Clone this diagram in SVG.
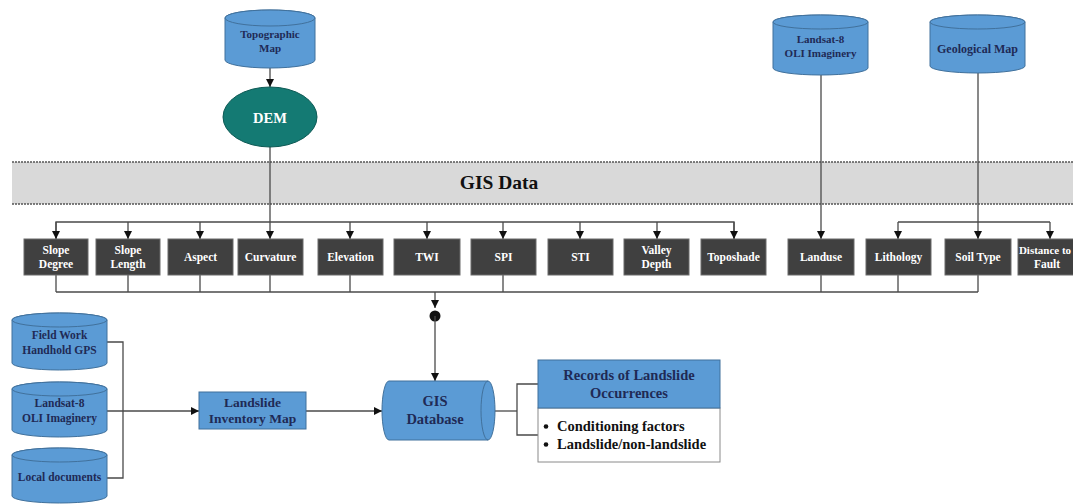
<svg xmlns="http://www.w3.org/2000/svg" width="1073" height="504" viewBox="0 0 1073 504">
<defs>
<style>
text{font-family:"Liberation Serif","Times New Roman",serif;font-weight:bold;text-anchor:middle}
.cyl{fill:#5b9bd5;stroke:#41719c;stroke-width:1}
.ct{fill:#1f2a55;font-size:11px}
.bt{fill:#1f2a55;font-size:11.5px}
.fac rect{fill:#404040;stroke:#6b6b6b;stroke-width:1}
.fac text{fill:#ffffff;font-size:11.5px}
.ln{fill:none;stroke:#4a4a4a;stroke-width:1.3}
.ar{marker-end:url(#ah)}
</style>
<marker id="ah" markerUnits="userSpaceOnUse" markerWidth="8" markerHeight="8" refX="8" refY="4" orient="auto">
<path d="M0,0 L8,4 L0,8 z" fill="#111"/>
</marker>
</defs>
<rect width="1073" height="504" fill="#ffffff"/>

<g id="gis-data-band">
<rect x="12" y="162" width="1061" height="42" fill="#d9d9d9"/>
<line x1="12" y1="162" x2="1073" y2="162" stroke="#555" stroke-width="1.3" stroke-dasharray="2,1"/>
<line x1="12" y1="204" x2="1073" y2="204" stroke="#555" stroke-width="1.3" stroke-dasharray="2,1"/>
<text x="499" y="189" font-size="19.5" fill="#111">GIS Data</text>
</g>

<g id="connectors">
<line class="ln ar" x1="270" y1="68" x2="270" y2="87"/>
<line class="ln ar" x1="270" y1="147" x2="270" y2="239"/>
<line class="ln ar" x1="821" y1="75" x2="821" y2="239"/>
<line class="ln ar" x1="978" y1="73" x2="978" y2="239"/>
<polyline class="ln" points="734,239 734,222 56,222 56,239"/>
<line class="ln ar" x1="56" y1="222" x2="56" y2="239"/>
<line class="ln ar" x1="128" y1="222" x2="128" y2="239"/>
<line class="ln ar" x1="200" y1="222" x2="200" y2="239"/>
<line class="ln ar" x1="350" y1="222" x2="350" y2="239"/>
<line class="ln ar" x1="427" y1="222" x2="427" y2="239"/>
<line class="ln ar" x1="503" y1="222" x2="503" y2="239"/>
<line class="ln ar" x1="580" y1="222" x2="580" y2="239"/>
<line class="ln ar" x1="657" y1="222" x2="657" y2="239"/>
<line class="ln ar" x1="734" y1="222" x2="734" y2="239"/>
<line class="ln" x1="898" y1="222" x2="1050" y2="222"/>
<line class="ln ar" x1="898" y1="222" x2="898" y2="239"/>
<line class="ln ar" x1="1050" y1="222" x2="1050" y2="239"/>
<line class="ln" x1="56" y1="292" x2="978" y2="292"/>
<line class="ln" x1="56" y1="275" x2="56" y2="292"/>
<line class="ln" x1="128" y1="275" x2="128" y2="292"/>
<line class="ln" x1="200" y1="275" x2="200" y2="292"/>
<line class="ln" x1="270" y1="275" x2="270" y2="292"/>
<line class="ln" x1="350" y1="275" x2="350" y2="292"/>
<line class="ln" x1="503" y1="275" x2="503" y2="292"/>
<line class="ln" x1="821" y1="275" x2="821" y2="292"/>
<line class="ln" x1="898" y1="275" x2="898" y2="292"/>
<line class="ln" x1="978" y1="275" x2="978" y2="292"/>
<line class="ln ar" x1="435" y1="292" x2="435" y2="308"/>
<circle cx="435" cy="316" r="5.5" fill="#111"/>
<line class="ln ar" x1="435" y1="316" x2="435" y2="381"/>
<polyline class="ln" points="107,342 123,342 123,478 107,478"/>
<line class="ln ar" x1="107" y1="411" x2="199" y2="411"/>
<line class="ln ar" x1="306" y1="411" x2="382" y2="411"/>
<polyline class="ln" points="495,411 517,411"/>
<polyline class="ln" points="538,384 517,384 517,435 538,435"/>
</g>

<g id="topographic-map">
<path class="cyl" d="M225,18 A45,8 0 0 1 315,18 L315,60 A45,8 0 0 1 225,60 Z"/>
<ellipse class="cyl" cx="270" cy="18" rx="45" ry="8"/>
<text class="ct" x="270" y="38">Topographic</text>
<text class="ct" x="270" y="52">Map</text>
</g>

<g id="dem">
<ellipse cx="270" cy="117" rx="47" ry="30" fill="#147a73" stroke="#0e5a55" stroke-width="1"/>
<text x="270" y="122.5" font-size="14.5" fill="#ffffff">DEM</text>
</g>

<g id="landsat-top">
<path class="cyl" d="M773,22 A47.5,7 0 0 1 868,22 L868,68 A47.5,7 0 0 1 773,68 Z"/>
<ellipse class="cyl" cx="820.5" cy="22" rx="47.5" ry="7"/>
<text class="ct" x="820.5" y="43">Landsat-8</text>
<text class="ct" x="820.5" y="57">OLI Imaginery</text>
</g>

<g id="geological-map">
<path class="cyl" d="M930,22 A47.5,7 0 0 1 1025,22 L1025,66 A47.5,7 0 0 1 930,66 Z"/>
<ellipse class="cyl" cx="977.5" cy="22" rx="47.5" ry="7"/>
<text class="ct" x="977.5" y="53" style="font-size:12px">Geological Map</text>
</g>

<g id="slope-degree" class="fac"><rect x="24" y="239" width="64" height="36"/><text x="56" y="254">Slope</text><text x="56" y="268">Degree</text></g>
<g id="slope-length" class="fac"><rect x="96" y="239" width="64" height="36"/><text x="128" y="254">Slope</text><text x="128" y="268">Length</text></g>
<g id="aspect" class="fac"><rect x="168" y="239" width="65" height="36"/><text x="200.5" y="261">Aspect</text></g>
<g id="curvature" class="fac"><rect x="238" y="239" width="65" height="36"/><text x="270.5" y="261">Curvature</text></g>
<g id="elevation" class="fac"><rect x="318" y="239" width="65" height="36"/><text x="350.5" y="261">Elevation</text></g>
<g id="twi" class="fac"><rect x="394" y="239" width="66" height="36"/><text x="427" y="261">TWI</text></g>
<g id="spi" class="fac"><rect x="471" y="239" width="65" height="36"/><text x="503.5" y="261">SPI</text></g>
<g id="sti" class="fac"><rect x="548" y="239" width="65" height="36"/><text x="580.5" y="261">STI</text></g>
<g id="valley-depth" class="fac"><rect x="624" y="239" width="65" height="36"/><text x="656.5" y="254">Valley</text><text x="656.5" y="268">Depth</text></g>
<g id="toposhade" class="fac"><rect x="701" y="239" width="65" height="36"/><text x="733.5" y="261">Toposhade</text></g>
<g id="landuse" class="fac"><rect x="788" y="239" width="66" height="36"/><text x="821" y="261">Landuse</text></g>
<g id="lithology" class="fac"><rect x="866" y="239" width="65" height="36"/><text x="898.5" y="261">Lithology</text></g>
<g id="soil-type" class="fac"><rect x="945" y="239" width="66" height="36"/><text x="978" y="261">Soil Type</text></g>
<g id="distance-to-fault" class="fac"><rect x="1018" y="239" width="72" height="36"/><text x="1045" y="254" style="font-size:11px">Distance to</text><text x="1047" y="268">Fault</text></g>

<g id="field-work">
<path class="cyl" d="M12,320 A47.5,7 0 0 1 107,320 L107,363 A47.5,7 0 0 1 12,363 Z"/>
<ellipse class="cyl" cx="59.5" cy="320" rx="47.5" ry="7"/>
<text class="bt" x="59.5" y="339">Field Work</text>
<text class="bt" x="59.5" y="354">Handhold GPS</text>
</g>

<g id="landsat-bottom">
<path class="cyl" d="M12,389 A47.5,7 0 0 1 107,389 L107,430 A47.5,7 0 0 1 12,430 Z"/>
<ellipse class="cyl" cx="59.5" cy="389" rx="47.5" ry="7"/>
<text class="bt" x="59.5" y="407">Landsat-8</text>
<text class="bt" x="59.5" y="422">OLI Imaginery</text>
</g>

<g id="local-documents">
<path class="cyl" d="M12,455 A47.5,7 0 0 1 107,455 L107,496 A47.5,7 0 0 1 12,496 Z"/>
<ellipse class="cyl" cx="59.5" cy="455" rx="47.5" ry="7"/>
<text class="bt" x="59.5" y="481">Local documents</text>
</g>

<g id="landslide-inventory-map">
<rect class="cyl" x="199" y="392" width="107" height="37"/>
<text x="252.5" y="407" font-size="13.5" fill="#1f2a55">Landslide</text>
<text x="252.5" y="423" font-size="13.5" fill="#1f2a55">Inventory Map</text>
</g>

<g id="gis-database">
<path class="cyl" d="M389,381 L488,381 A7,29.5 0 0 1 488,440 L389,440 A7,29.5 0 0 1 389,381 Z"/>
<path d="M488,381 A7,29.5 0 0 0 488,440" fill="none" stroke="#41719c" stroke-width="1"/>
<text x="435" y="406" font-size="14.5" fill="#1f2a55">GIS</text>
<text x="435" y="424" font-size="14.5" fill="#1f2a55">Database</text>
</g>

<g id="records">
<rect x="538" y="408" width="182" height="54" fill="#ffffff" stroke="#8a8a8a" stroke-width="1"/>
<rect class="cyl" x="538" y="360" width="182" height="48"/>
<text x="629" y="380" font-size="14.5" fill="#1f2a55">Records of Landslide</text>
<text x="629" y="398" font-size="14.5" fill="#1f2a55">Occurrences</text>
<circle cx="546" cy="426.5" r="2.3" fill="#111"/>
<circle cx="546" cy="444.5" r="2.3" fill="#111"/>
<text x="557" y="431" font-size="14.5" fill="#111" style="text-anchor:start">Conditioning factors</text>
<text x="557" y="449" font-size="14.5" fill="#111" style="text-anchor:start">Landslide/non-landslide</text>
</g>
</svg>
